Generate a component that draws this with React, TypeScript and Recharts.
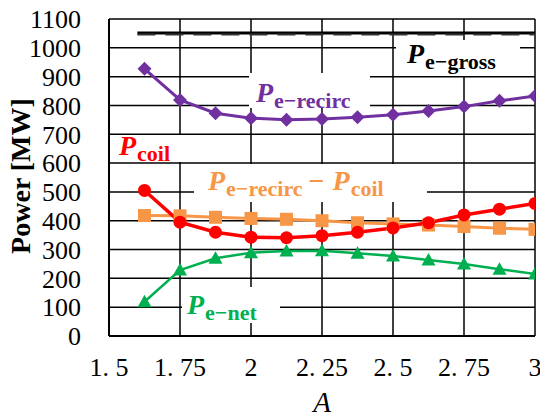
import React from "react";
import { ComposedChart, Line, XAxis, YAxis, CartesianGrid, Customized } from "recharts";

const aValues = [1.625, 1.75, 1.875, 2, 2.125, 2.25, 2.375, 2.5, 2.625, 2.75, 2.875, 3];
const pRecirc = [927, 819, 773, 756, 750, 753, 759, 768, 781, 796, 816, 833];
const pCoil = [505, 395, 360, 343, 341, 348, 360, 375, 393, 420, 440, 460];
const pDiff = [418, 417, 412, 408, 405, 400, 393, 389, 385, 380, 374, 370];
const pNet = [119, 229, 270, 289, 295, 296, 287, 278, 264, 250, 232, 215];

const grossA = [1.6, 3];
const pGross = [1051, 1051];
const pGrossDash = [1046, 1046];

const xTicks = [1.5, 1.75, 2, 2.25, 2.5, 2.75, 3];
const xTickLabels = ["1. 5", "1. 75", "2", "2. 25", "2. 5", "2. 75", "3"];
const yTicks = [0, 100, 200, 300, 400, 500, 600, 700, 800, 900, 1000, 1100];

const data = aValues.map((a, i) => ({
  a,
  recirc: pRecirc[i],
  coil: pCoil[i],
  diff: pDiff[i],
  net: pNet[i],
}));
const grossData = grossA.map((a, i) => ({ a, gross: pGross[i], grossDash: pGrossDash[i] }));

const PURPLE = "#7030A0";
const RED = "#FF0000";
const ORANGE = "#F79646";
const GREEN = "#00B050";
const SERIF = "'Liberation Serif', 'DejaVu Serif', serif";

const Diamond = (p: any) => (
  <polygon key={p.key ?? p.index} points={`${p.cx},${p.cy - 7} ${p.cx + 7},${p.cy} ${p.cx},${p.cy + 7} ${p.cx - 7},${p.cy}`} fill={PURPLE} />
);
const Circ = (p: any) => <circle key={p.key ?? p.index} cx={p.cx} cy={p.cy} r={6.5} fill={RED} />;
const Sq = (p: any) => <rect key={p.key ?? p.index} x={p.cx - 6.5} y={p.cy - 6.5} width={13} height={13} fill={ORANGE} />;
const Tri = (p: any) => (
  <polygon key={p.key ?? p.index} points={`${p.cx},${p.cy - 7} ${p.cx + 7},${p.cy + 5.5} ${p.cx - 7},${p.cy + 5.5}`} fill={GREEN} />
);

const Lbl = ({ x, y, sub, color }: { x: number; y: number; sub: string; color: string }) => (
  <text x={x} y={y} fill={color} fontFamily={SERIF} fontWeight="bold">
    <tspan fontStyle="italic" fontSize={28}>P</tspan>
    <tspan fontSize={22} dy={6} dx={1}>{sub}</tspan>
  </text>
);

const Annotations = () => (
  <g>
    <rect x={110} y={135} width={71} height={27} fill="#fff" />
    <rect x={194} y={164} width={233} height={38} fill="#fff" />
    <rect x={182} y={287} width={98} height={36} fill="#fff" />
    <rect x={249} y={73} width={121} height={35} fill="#fff" />
    <rect x={396} y={40} width={124} height={36} fill="#fff" />
    <Lbl x={119} y={155} sub="coil" color={RED} />
    <text x={208} y={190} fill={ORANGE} fontFamily={SERIF} fontWeight="bold">
      <tspan fontStyle="italic" fontSize={28}>P</tspan>
      <tspan fontSize={22} dy={6} dx={1}>{"e\u2212recirc"}</tspan>
      <tspan fontSize={28} dy={-6} dx={6}>{"\u2212"}</tspan>
      <tspan fontStyle="italic" fontSize={28} dx={8}>P</tspan>
      <tspan fontSize={22} dy={6} dx={1}>coil</tspan>
    </text>
    <Lbl x={187} y={314} sub={"e\u2212net"} color={GREEN} />
    <Lbl x={256} y={102} sub={"e\u2212recirc"} color={PURPLE} />
    <Lbl x={407} y={63} sub={"e\u2212gross"} color="#000" />
    <text x={20} y={176} transform="rotate(-90 20 176)" textAnchor="middle" dominantBaseline="central" fontFamily={SERIF} fontWeight="bold" fontSize={28} fill="#000">
      Power [MW]
    </text>
    <text x={322} y={412} textAnchor="middle" fontFamily={SERIF} fontStyle="italic" fontSize={29} fill="#000">
      A
    </text>
  </g>
);

export default function App() {
  return (
    <div style={{ position: "absolute", left: 0, top: 0, width: 540, height: 418, background: "#fff" }}>
      <ComposedChart width={540} height={418} data={data} margin={{ top: 19, right: 5, bottom: 42, left: 0 }}>
        <CartesianGrid stroke="#000" strokeWidth={1.5} horizontalValues={yTicks} verticalValues={xTicks} />
        <XAxis
          dataKey="a"
          type="number"
          domain={[1.5, 3]}
          ticks={xTicks}
          tickFormatter={(v: number) => xTickLabels[xTicks.indexOf(v)] ?? String(v)}
          axisLine={{ stroke: "#000", strokeWidth: 2 }}
          tickLine={false}
          height={40}
          tick={{ fill: "#000", fontSize: 26, fontFamily: SERIF, dy: 14 }}
          interval={0}
          allowDataOverflow
        />
        <YAxis
          type="number"
          domain={[0, 1100]}
          ticks={yTicks}
          axisLine={{ stroke: "#000", strokeWidth: 2 }}
          tickLine={false}
          width={109}
          tick={{ fill: "#000", fontSize: 26, fontFamily: SERIF, dx: -20 }}
          interval={0}
        />
        <Customized component={Annotations} />
        <Line data={grossData} dataKey="gross" stroke="#000" strokeWidth={3} dot={false} activeDot={false} isAnimationActive={false} />
        <Line data={grossData} dataKey="grossDash" stroke="#333" strokeWidth={2} strokeDasharray="18 10" dot={false} activeDot={false} isAnimationActive={false} />
        <Line dataKey="recirc" stroke={PURPLE} strokeWidth={3} dot={Diamond} activeDot={false} isAnimationActive={false} />
        <Line dataKey="diff" stroke={ORANGE} strokeWidth={3} dot={Sq} activeDot={false} isAnimationActive={false} />
        <Line dataKey="coil" stroke={RED} strokeWidth={3.5} dot={Circ} activeDot={false} isAnimationActive={false} />
        <Line dataKey="net" stroke={GREEN} strokeWidth={2.5} dot={Tri} activeDot={false} isAnimationActive={false} />
      </ComposedChart>
    </div>
  );
}
